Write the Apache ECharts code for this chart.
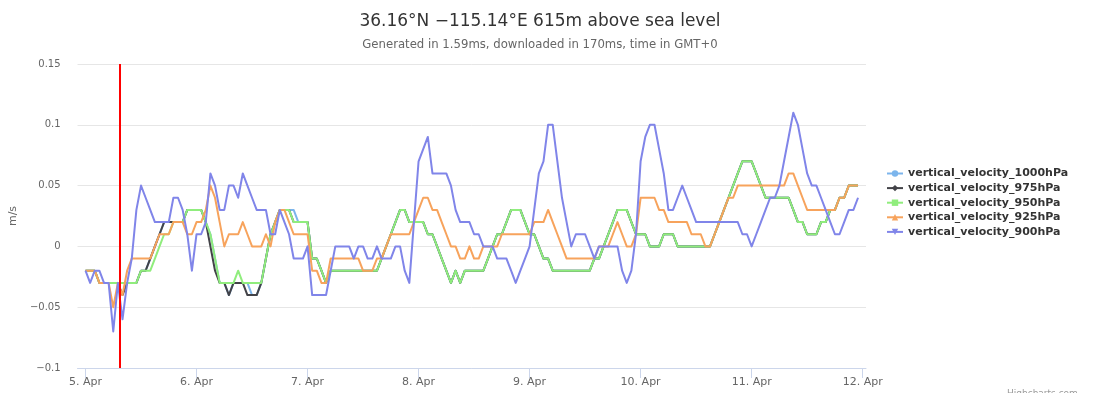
<!DOCTYPE html>
<html>
<head>
<meta charset="utf-8">
<script src="https://cdn.jsdelivr.net/npm/echarts@6/dist/echarts.min.js"></script>
<style>
  html, body { margin: 0; padding: 0; background: #ffffff; }
  #chart { width: 1100px; height: 393px; }
</style>
</head>
<body>
<div id="chart"></div>
<script>
// ---- Texts ----
const titleText = '36.16°N −115.14°E 615m above sea level';
const subtitleText = 'Generated in 1.59ms, downloaded in 170ms, time in GMT+0';
const yAxisName = 'm/s';
const creditText = 'Highcharts.com';

// ---- X axis: hourly points from 5. Apr 00:00 (hour 0), labels every 24 h ----
const dayLabels = ['5. Apr', '6. Apr', '7. Apr', '8. Apr', '9. Apr', '10. Apr', '11. Apr', '12. Apr'];
const dayTicks = [0, 24, 48, 72, 96, 120, 144, 168];
const nowHour = 7.5; // red "current time" line

// ---- Y axis ----
const yMin = -0.1, yMax = 0.15, yStep = 0.05;

// ---- Series names ----
const seriesNames = [
  'vertical_velocity_1000hPa',
  'vertical_velocity_975hPa',
  'vertical_velocity_950hPa',
  'vertical_velocity_925hPa',
  'vertical_velocity_900hPa'
];

// ---- Series values (m/s), one value per hour ----
const vv1000 = [
  -0.02,-0.02,-0.02,-0.03,-0.03,-0.03,-0.03,-0.03,-0.03,-0.03,-0.03,-0.03,-0.02,-0.02,-0.01,0,0.01,0.02,0.02,0.02,0.02,0.02,0.03,0.03,
  0.03,0.03,0.02,0.01,-0.01,-0.03,-0.03,-0.04,-0.03,-0.03,-0.03,-0.03,-0.04,-0.04,-0.03,-0.01,0.01,0.02,0.03,0.03,0.03,0.03,0.02,0.02,
  0.02,-0.01,-0.01,-0.02,-0.03,-0.02,-0.02,-0.02,-0.02,-0.02,-0.02,-0.02,-0.02,-0.02,-0.02,-0.02,-0.01,0,0.01,0.02,0.03,0.03,0.02,0.02,
  0.02,0.02,0.01,0.01,0,-0.01,-0.02,-0.03,-0.02,-0.03,-0.02,-0.02,-0.02,-0.02,-0.02,-0.01,0,0.01,0.01,0.02,0.03,0.03,0.03,0.02,
  0.01,0.01,0,-0.01,-0.01,-0.02,-0.02,-0.02,-0.02,-0.02,-0.02,-0.02,-0.02,-0.02,-0.01,-0.01,0,0.01,0.02,0.03,0.03,0.03,0.02,0.01,
  0.01,0.01,0,0,0,0.01,0.01,0.01,0,0,0,0,0,0,0,0,0.01,0.02,0.03,0.04,0.05,0.06,0.07,0.07,
  0.07,0.06,0.05,0.04,0.04,0.04,0.04,0.04,0.04,0.03,0.02,0.02,0.01,0.01,0.01,0.02,0.02,0.03,0.03,0.04,0.04,0.05,0.05,0.05
];
const vv975 = [
  -0.02,-0.02,-0.02,-0.03,-0.03,-0.03,-0.03,-0.03,-0.04,-0.03,-0.03,-0.03,-0.02,-0.02,-0.01,0,0.01,0.02,0.02,0.02,0.02,0.02,0.03,0.03,
  0.03,0.03,0.02,0,-0.02,-0.03,-0.03,-0.04,-0.03,-0.03,-0.03,-0.04,-0.04,-0.04,-0.03,-0.01,0.01,0.02,0.03,0.03,0.03,0.02,0.02,0.02,
  0.02,-0.01,-0.01,-0.02,-0.03,-0.02,-0.02,-0.02,-0.02,-0.02,-0.02,-0.02,-0.02,-0.02,-0.02,-0.02,-0.01,0,0.01,0.02,0.03,0.03,0.02,0.02,
  0.02,0.02,0.01,0.01,0,-0.01,-0.02,-0.03,-0.02,-0.03,-0.02,-0.02,-0.02,-0.02,-0.02,-0.01,0,0.01,0.01,0.02,0.03,0.03,0.03,0.02,
  0.01,0.01,0,-0.01,-0.01,-0.02,-0.02,-0.02,-0.02,-0.02,-0.02,-0.02,-0.02,-0.02,-0.01,-0.01,0,0.01,0.02,0.03,0.03,0.03,0.02,0.01,
  0.01,0.01,0,0,0,0.01,0.01,0.01,0,0,0,0,0,0,0,0,0.01,0.02,0.03,0.04,0.05,0.06,0.07,0.07,
  0.07,0.06,0.05,0.04,0.04,0.04,0.04,0.04,0.04,0.03,0.02,0.02,0.01,0.01,0.01,0.02,0.02,0.03,0.03,0.04,0.04,0.05,0.05,0.05
];
const vv950 = [
  -0.02,-0.02,-0.02,-0.03,-0.03,-0.03,-0.03,-0.03,-0.03,-0.03,-0.03,-0.03,-0.02,-0.02,-0.02,-0.01,0,0.01,0.01,0.02,0.02,0.02,0.03,0.03,
  0.03,0.03,0.02,0.01,-0.01,-0.03,-0.03,-0.03,-0.03,-0.02,-0.03,-0.03,-0.03,-0.03,-0.03,-0.01,0.01,0.02,0.03,0.03,0.03,0.02,0.02,0.02,
  0.02,-0.01,-0.01,-0.02,-0.03,-0.02,-0.02,-0.02,-0.02,-0.02,-0.02,-0.02,-0.02,-0.02,-0.02,-0.02,-0.01,0,0.01,0.02,0.03,0.03,0.02,0.02,
  0.02,0.02,0.01,0.01,0,-0.01,-0.02,-0.03,-0.02,-0.03,-0.02,-0.02,-0.02,-0.02,-0.02,-0.01,0,0.01,0.01,0.02,0.03,0.03,0.03,0.02,
  0.01,0.01,0,-0.01,-0.01,-0.02,-0.02,-0.02,-0.02,-0.02,-0.02,-0.02,-0.02,-0.02,-0.01,-0.01,0,0.01,0.02,0.03,0.03,0.03,0.02,0.01,
  0.01,0.01,0,0,0,0.01,0.01,0.01,0,0,0,0,0,0,0,0,0.01,0.02,0.03,0.04,0.05,0.06,0.07,0.07,
  0.07,0.06,0.05,0.04,0.04,0.04,0.04,0.04,0.04,0.03,0.02,0.02,0.01,0.01,0.01,0.02,0.02,0.03,0.03,0.04,0.04,0.05,0.05,0.05
];
const vv925 = [
  -0.02,-0.02,-0.02,-0.03,-0.03,-0.03,-0.05,-0.03,-0.04,-0.02,-0.01,-0.01,-0.01,-0.01,-0.01,0,0.01,0.01,0.01,0.02,0.02,0.02,0.01,0.01,
  0.02,0.02,0.03,0.05,0.04,0.02,0,0.01,0.01,0.01,0.02,0.01,0,0,0,0.01,0,0.02,0.03,0.03,0.02,0.01,0.01,0.01,
  0.01,-0.02,-0.02,-0.03,-0.03,-0.01,-0.01,-0.01,-0.01,-0.01,-0.01,-0.01,-0.02,-0.02,-0.02,-0.01,-0.01,0,0.01,0.01,0.01,0.01,0.01,0.02,
  0.03,0.04,0.04,0.03,0.03,0.02,0.01,0,0,-0.01,-0.01,0,-0.01,-0.01,0,0,0,0,0.01,0.01,0.01,0.01,0.01,0.01,
  0.01,0.02,0.02,0.02,0.03,0.02,0.01,0,-0.01,-0.01,-0.01,-0.01,-0.01,-0.01,-0.01,0,0,0,0.01,0.02,0.01,0,0,0.01,
  0.04,0.04,0.04,0.04,0.03,0.03,0.02,0.02,0.02,0.02,0.02,0.01,0.01,0.01,0,0,0.01,0.02,0.03,0.04,0.04,0.05,0.05,0.05,
  0.05,0.05,0.05,0.05,0.05,0.05,0.05,0.05,0.06,0.06,0.05,0.04,0.03,0.03,0.03,0.03,0.03,0.03,0.03,0.04,0.04,0.05,0.05,0.05
];
const vv900 = [
  -0.02,-0.03,-0.02,-0.02,-0.03,-0.03,-0.07,-0.03,-0.06,-0.03,-0.01,0.03,0.05,0.04,0.03,0.02,0.02,0.02,0.02,0.04,0.04,0.03,0.01,-0.02,
  0.01,0.01,0.02,0.06,0.05,0.03,0.03,0.05,0.05,0.04,0.06,0.05,0.04,0.03,0.03,0.03,0.01,0.01,0.03,0.02,0.01,-0.01,-0.01,-0.01,
  0,-0.04,-0.04,-0.04,-0.04,-0.02,0,0,0,0,-0.01,0,0,-0.01,-0.01,0,-0.01,-0.01,-0.01,0,0,-0.02,-0.03,0.02,
  0.07,0.08,0.09,0.06,0.06,0.06,0.06,0.05,0.03,0.02,0.02,0.02,0.01,0.01,0,0,0,-0.01,-0.01,-0.01,-0.02,-0.03,-0.02,-0.01,
  0,0.03,0.06,0.07,0.1,0.1,0.07,0.04,0.02,0,0.01,0.01,0.01,0,-0.01,0,0,0,0,0,-0.02,-0.03,-0.02,0.01,
  0.07,0.09,0.1,0.1,0.08,0.06,0.03,0.03,0.04,0.05,0.04,0.03,0.02,0.02,0.02,0.02,0.02,0.02,0.02,0.02,0.02,0.02,0.01,0.01,
  0,0.01,0.02,0.03,0.04,0.04,0.05,0.07,0.09,0.11,0.1,0.08,0.06,0.05,0.05,0.04,0.03,0.02,0.01,0.01,0.02,0.03,0.03,0.04
];

// ---- Styles ----
const seriesColors = ['#7cb5ec', '#434348', '#90ed7d', '#f7a35c', '#8085e9'];
const seriesSymbols = ['circle', 'diamond', 'rect', 'triangle', 'path://M0,0 L10,0 L5,10 Z'];
const allValues = [vv1000, vv975, vv950, vv925, vv900];

const chart = echarts.init(document.getElementById('chart'), null, { renderer: 'canvas' });

const series = seriesNames.map((name, i) => {
  const s = {
    name: name,
    type: 'line',
    data: allValues[i].map((v, h) => [h, v]),
    symbol: seriesSymbols[i],
    symbolSize: 8,
    showSymbol: false,
    color: seriesColors[i],
    lineStyle: { width: 2, color: seriesColors[i], join: 'round' },
    emphasis: { disabled: true },
    animation: false
  };
  if (i === seriesNames.length - 1) {
    s.markLine = {
      silent: true,
      symbol: ['none', 'none'],
      label: { show: false },
      lineStyle: { color: '#ff0000', width: 2, type: 'solid' },
      emphasis: { disabled: true },
      animation: false,
      data: [{ xAxis: nowHour }]
    };
  }
  return s;
});

function fmtY(v) {
  const n = parseFloat(Number(v).toFixed(4));
  return String(n).replace('-', '\u2212');
}

const option = {
  animation: false,
  backgroundColor: '#ffffff',
  title: {
    text: titleText,
    subtext: subtitleText,
    left: 535,
    top: 8,
    textAlign: 'center',
    itemGap: 9,
    textStyle: { fontFamily: 'DejaVu Sans', fontSize: 17, fontWeight: 'normal', color: '#333333' },
    subtextStyle: { fontFamily: 'DejaVu Sans', fontSize: 11.7, color: '#666666' }
  },
  legend: {
    orient: 'vertical',
    left: 886,
    top: 168,
    padding: 0,
    itemWidth: 16,
    itemHeight: 8,
    itemGap: 3.6,
    data: seriesNames,
    textStyle: { fontFamily: 'DejaVu Sans', fontWeight: 'bold', fontSize: 11, color: '#333333' }
  },
  grid: { left: 74, right: 234, top: 64, bottom: 25, containLabel: false },
  xAxis: {
    type: 'value',
    min: -1.72,
    max: 168.72,
    splitLine: { show: false },
    axisLine: { onZero: false, lineStyle: { color: '#ccd6eb', width: 1 } },
    axisTick: { show: true, length: 10, customValues: dayTicks, lineStyle: { color: '#ccd6eb' } },
    axisLabel: {
      customValues: dayTicks,
      margin: 9,
      color: '#666666',
      fontFamily: 'DejaVu Sans',
      fontSize: 11,
      formatter: function (v) { return dayLabels[Math.round(v / 24)]; }
    }
  },
  yAxis: {
    type: 'value',
    min: yMin,
    max: yMax,
    interval: yStep,
    name: yAxisName,
    nameLocation: 'middle',
    nameGap: 46,
    nameTextStyle: { fontFamily: 'DejaVu Sans', fontSize: 11, color: '#666666' },
    axisLine: { show: false },
    axisTick: { show: false },
    splitLine: { lineStyle: { color: '#e6e6e6', width: 1 } },
    axisLabel: { margin: 17, color: '#666666', fontFamily: 'DejaVu Sans', fontSize: 10, formatter: fmtY }
  },
  graphic: [{
    type: 'text',
    left: 1007,
    top: 389,
    silent: true,
    style: { text: creditText, fontSize: 9, fill: '#999999', fontFamily: 'DejaVu Sans' }
  }],
  series: series
};

chart.setOption(option);
</script>
</body>
</html>
